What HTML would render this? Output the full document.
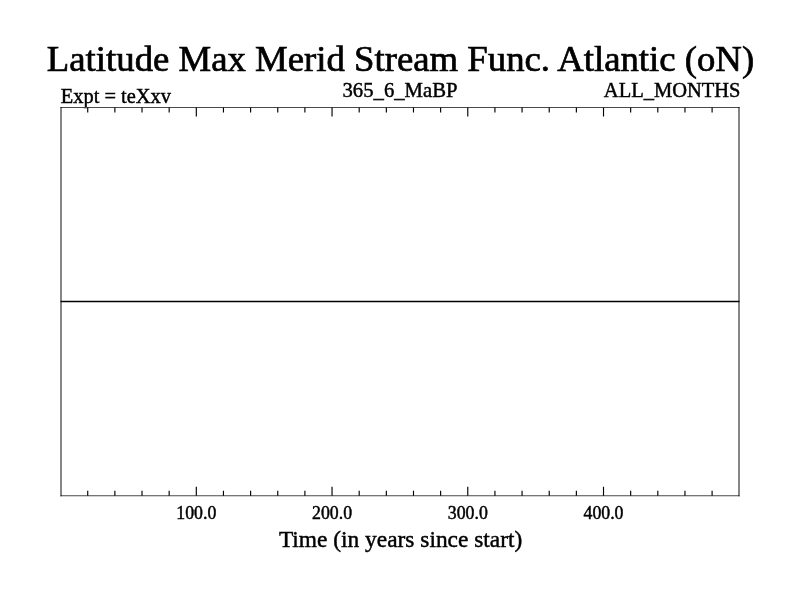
<!DOCTYPE html>
<html><head><meta charset="utf-8">
<style>
html,body{margin:0;padding:0;background:#fff;width:800px;height:600px;overflow:hidden}
svg{display:block;will-change:transform}
text{font-family:"Liberation Serif",serif;fill:#000;stroke:#000}
.t{font-size:36.75px;stroke-width:0.7px}
.s{font-size:20.7px;stroke-width:0.45px}
.lab{font-size:17.8px;stroke-width:0.45px}
.xt{font-size:23.4px;stroke-width:0.45px}
</style></head>
<body>
<svg width="800" height="600" viewBox="0 0 800 600">
<rect x="0" y="0" width="800" height="600" fill="#fff"/>
<text class="t" x="400.5" y="71.0" text-anchor="middle">Latitude Max Merid Stream Func. Atlantic (oN)</text>
<text class="s" x="60.8" y="102.5" style="font-size:20.4px">Expt = teXxv</text>
<text class="s" x="400" y="96.5" text-anchor="middle">365_6_MaBP</text>
<text class="s" x="740.5" y="97.2" text-anchor="end" style="font-size:20.5px">ALL_MONTHS</text>
<path fill="none" stroke="#4a4a4a" stroke-width="1.1" d="M60.5 107.5H739.5M60.5 495.8H739.5"/>
<path fill="none" stroke="#000" stroke-width="0.95" d="M61 107.0V496.3M739 107.0V496.3"/>
<path fill="none" stroke="#000" stroke-width="1.5" d="M60.5 301.5H739.5"/>
<path fill="none" stroke="#000" stroke-width="1.15" d="M87.72 107.5v5M87.72 495.8v-5M114.87 107.5v5M114.87 495.8v-5M142.01 107.5v5M142.01 495.8v-5M169.16 107.5v5M169.16 495.8v-5M196.31 107.5v9M196.31 495.8v-9M223.45 107.5v5M223.45 495.8v-5M250.60 107.5v5M250.60 495.8v-5M277.75 107.5v5M277.75 495.8v-5M304.90 107.5v5M304.90 495.8v-5M332.04 107.5v9M332.04 495.8v-9M359.19 107.5v5M359.19 495.8v-5M386.34 107.5v5M386.34 495.8v-5M413.48 107.5v5M413.48 495.8v-5M440.63 107.5v5M440.63 495.8v-5M467.78 107.5v9M467.78 495.8v-9M494.93 107.5v5M494.93 495.8v-5M522.07 107.5v5M522.07 495.8v-5M549.22 107.5v5M549.22 495.8v-5M576.37 107.5v5M576.37 495.8v-5M603.51 107.5v9M603.51 495.8v-9M630.66 107.5v5M630.66 495.8v-5M657.81 107.5v5M657.81 495.8v-5M684.96 107.5v5M684.96 495.8v-5M712.10 107.5v5M712.10 495.8v-5"/>
<text class="lab" x="196.31" y="519" text-anchor="middle">100.0</text>
<text class="lab" x="332.04" y="519" text-anchor="middle">200.0</text>
<text class="lab" x="467.78" y="519" text-anchor="middle">300.0</text>
<text class="lab" x="603.51" y="519" text-anchor="middle">400.0</text>
<text class="xt" x="400.6" y="547.2" text-anchor="middle">Time (in years since start)</text>
</svg>
</body></html>
